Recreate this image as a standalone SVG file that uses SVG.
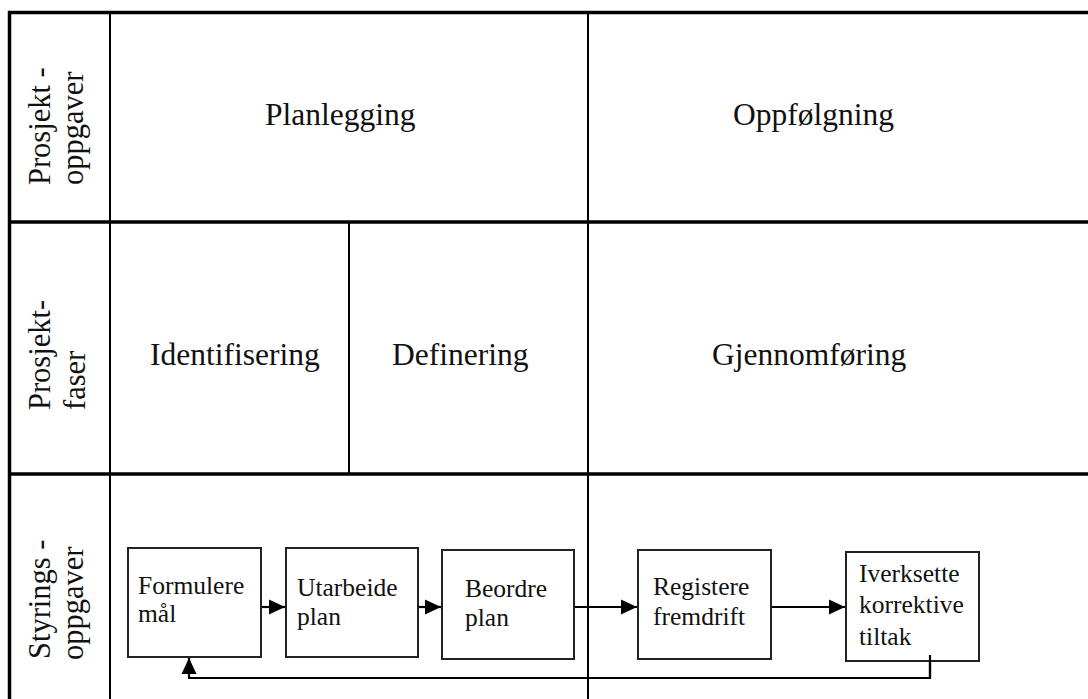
<svg xmlns="http://www.w3.org/2000/svg" width="1088" height="699" viewBox="0 0 1088 699">
<style>
.grid{stroke:#000;fill:none}
.thick{stroke-width:3.5}
.thin{stroke-width:2}
.t{font-family:"Liberation Serif","Times New Roman",serif;fill:#111}
.big{font-size:31.5px}
.lab{font-size:30.5px}
.box{fill:#fff;stroke:#222;stroke-width:2}
.bt{font-size:25.5px}
.conn{stroke:#000;stroke-width:2.2;fill:none}
</style>
<defs>
<marker id="ah" markerWidth="18" markerHeight="18" refX="16" refY="8" markerUnits="userSpaceOnUse" orient="auto">
<path d="M0,0.5 L16,8 L0,15.5 Z" fill="#000"/>
</marker>
</defs>
<rect width="1088" height="699" fill="#fff"/>
<g id="grid">
<line class="grid thin" x1="110" y1="13" x2="110" y2="699"/>
<line class="grid thin" x1="349" y1="222" x2="349" y2="474"/>
<line class="grid thin" x1="588" y1="13" x2="588" y2="699"/>
<line class="grid thick" x1="8" y1="12.5" x2="1088" y2="12.5"/>
<line class="grid thick" x1="8" y1="222" x2="1088" y2="222"/>
<line class="grid thick" x1="8" y1="474" x2="1088" y2="474"/>
<line class="grid thick" x1="9.5" y1="11" x2="9.5" y2="699"/>
</g>
<g id="row-labels">
<text class="t lab" transform="translate(50,185) rotate(-90)">Prosjekt -</text>
<text class="t lab" transform="translate(83,185) rotate(-90)">oppgaver</text>
<text class="t lab" transform="translate(50,410) rotate(-90)">Prosjekt-</text>
<text class="t lab" transform="translate(85,410) rotate(-90)">faser</text>
<text class="t lab" transform="translate(50,659) rotate(-90)">Styrings -</text>
<text class="t lab" transform="translate(83,660) rotate(-90)">oppgaver</text>
</g>
<g id="headers">
<text class="t big" x="265" y="125">Planlegging</text>
<text class="t big" x="733" y="125">Oppfølgning</text>
<text class="t big" x="150" y="365">Identifisering</text>
<text class="t big" x="392" y="365">Definering</text>
<text class="t big" x="712" y="365">Gjennomføring</text>
</g>
<g id="connectors">
<line class="conn" x1="256" y1="607" x2="285" y2="607" marker-end="url(#ah)"/>
<line class="conn" x1="412" y1="607" x2="441" y2="607" marker-end="url(#ah)"/>
<line class="conn" x1="570" y1="607" x2="637" y2="607" marker-end="url(#ah)"/>
<line class="conn" x1="763" y1="607" x2="845" y2="607" marker-end="url(#ah)"/>
<polyline class="conn" points="930,655 930,678 189,678 189,658" marker-end="url(#ah)"/>
</g>
<g id="n1">
<rect class="box" x="128" y="548" width="133" height="109"/>
<text class="t bt" x="138" y="594">Formulere</text>
<text class="t bt" x="138" y="622">mål</text>
</g>
<g id="n2">
<rect class="box" x="286" y="548" width="132" height="109"/>
<text class="t bt" x="297" y="596">Utarbeide</text>
<text class="t bt" x="297" y="625">plan</text>
</g>
<g id="n3">
<rect class="box" x="442" y="550" width="132" height="109"/>
<text class="t bt" x="465" y="597">Beordre</text>
<text class="t bt" x="465" y="626">plan</text>
</g>
<g id="n4">
<rect class="box" x="638" y="550" width="133" height="109"/>
<text class="t bt" x="653" y="595">Registere</text>
<text class="t bt" x="653" y="625">fremdrift</text>
</g>
<g id="n5">
<rect class="box" x="846" y="552" width="133" height="109"/>
<text class="t bt" x="859" y="582">Iverksette</text>
<text class="t bt" x="859" y="613">korrektive</text>
<text class="t bt" x="859" y="645">tiltak</text>
</g>
<line class="conn" x1="930" y1="655" x2="930" y2="678"/>
</svg>
